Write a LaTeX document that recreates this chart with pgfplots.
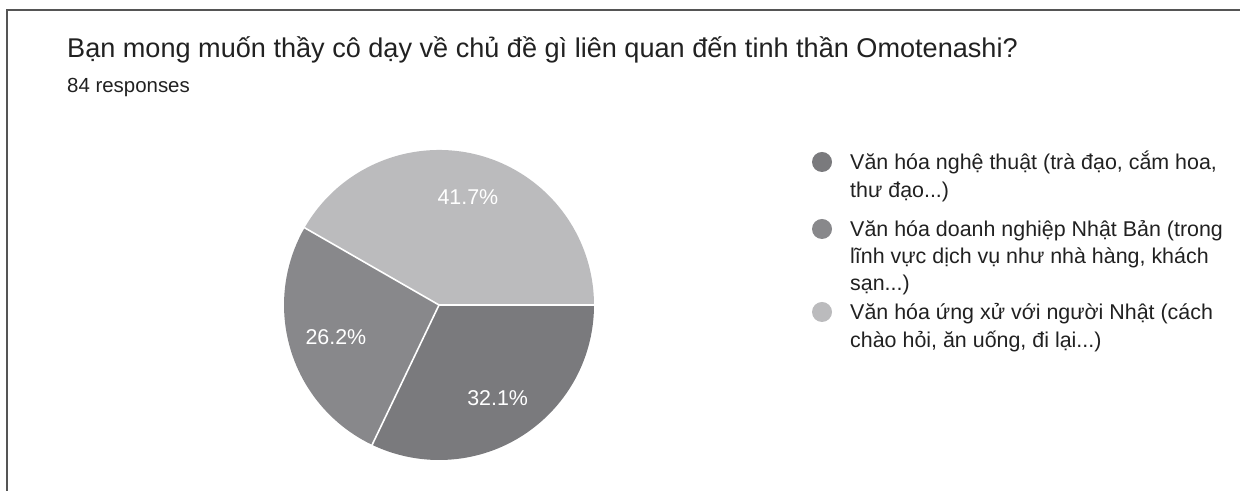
\documentclass[border=0pt]{standalone}
\usepackage{fontspec}
\setmainfont{Liberation Sans}
\usepackage{pgfplots}
\usepackage{pgfplotstable}
\pgfplotsset{compat=1.18}
\definecolor{cA}{HTML}{7A7A7D}
\definecolor{cB}{HTML}{88888B}
\definecolor{cC}{HTML}{BBBBBD}
\definecolor{framec}{HTML}{555555}
\definecolor{txt}{HTML}{212121}
\pgfplotstableread{
value
32.1
26.2
41.7
}\piedata
\begin{document}
\begin{tikzpicture}[x=1bp,y=1bp]
\pgfplotstablegetelem{0}{value}\of\piedata \let\va\pgfplotsretval
\pgfplotstablegetelem{1}{value}\of\piedata \let\vb\pgfplotsretval
\pgfplotstablegetelem{2}{value}\of\piedata \let\vc\pgfplotsretval
\pgfmathsetmacro\aA{-3.6*\va}
\pgfmathsetmacro\aB{\aA-3.6*\vb}
\pgfmathsetmacro\aC{\aB-3.6*\vc}
\pgfmathsetmacro\mA{\aA/2}
\pgfmathsetmacro\mB{(\aA+\aB)/2}
\pgfmathsetmacro\mC{(\aB+\aC)/2}
\begin{axis}[at={(0,0)},anchor=south west,width=1240bp,height=491bp,scale only axis,
  xmin=0,xmax=1240,ymin=0,ymax=491,hide axis,clip=false]
% pie slices
\fill[cA] (axis cs:439,186) -- ++(0:155bp) arc[start angle=0,end angle=\aA,radius=155bp] -- cycle;
\fill[cB] (axis cs:439,186) -- ++(\aA:155bp) arc[start angle=\aA,end angle=\aB,radius=155bp] -- cycle;
\fill[cC] (axis cs:439,186) -- ++(\aB:155bp) arc[start angle=\aB,end angle=\aC,radius=155bp] -- cycle;
\draw[white,line width=1.6bp] (axis cs:439,186) -- ++(0:155.5bp);
\draw[white,line width=1.6bp] (axis cs:439,186) -- ++(\aA:155.5bp);
\draw[white,line width=1.6bp] (axis cs:439,186) -- ++(\aB:155.5bp);
\path (axis cs:439,186) ++(\mA:110bp) node[white,font=\fontsize{21.5}{24}\selectfont] {\va\%};
\path (axis cs:439,186) ++(\mB:108bp) node[white,font=\fontsize{21.5}{24}\selectfont] {\vb\%};
\path (axis cs:439,186) ++(\mC:112bp) node[white,font=\fontsize{21.5}{24}\selectfont] {\vc\%};
% frame
\draw[framec,line width=2bp] (axis cs:6.5,-2) -- (axis cs:6.5,481) -- (axis cs:1242,481);
% title
\node[anchor=base west,text=txt,font=\fontsize{27.2}{32}\selectfont,inner sep=0pt] at (axis cs:67,433.5) {Bạn mong muốn thầy cô dạy về chủ đề gì liên quan đến tinh thần Omotenashi?};
\node[anchor=base west,text=txt,font=\fontsize{20.5}{24}\selectfont,inner sep=0pt] at (axis cs:67,398) {84 responses};
% legend
\fill[cA] (axis cs:822,329) circle[radius=10bp];
\fill[cB] (axis cs:822,262) circle[radius=10bp];
\fill[cC] (axis cs:822,179) circle[radius=10bp];
\begin{scope}[every node/.style={anchor=base west,text=txt,font=\fontsize{21.5}{24}\selectfont,inner sep=0pt}]
\node at (axis cs:850,321.5) {Văn hóa nghệ thuật (trà đạo, cắm hoa,};
\node at (axis cs:850,293.5) {thư đạo...)};
\node at (axis cs:850,254.5) {Văn hóa doanh nghiệp Nhật Bản (trong};
\node at (axis cs:850,227.5) {lĩnh vực dịch vụ như nhà hàng, khách};
\node at (axis cs:850,200.5) {sạn...)};
\node at (axis cs:850,171.5) {Văn hóa ứng xử với người Nhật (cách};
\node at (axis cs:850,143.5) {chào hỏi, ăn uống, đi lại...)};
\end{scope}
\end{axis}
\pgfresetboundingbox
\useasboundingbox (0,0) rectangle (1240,491);
\end{tikzpicture}
\end{document}
